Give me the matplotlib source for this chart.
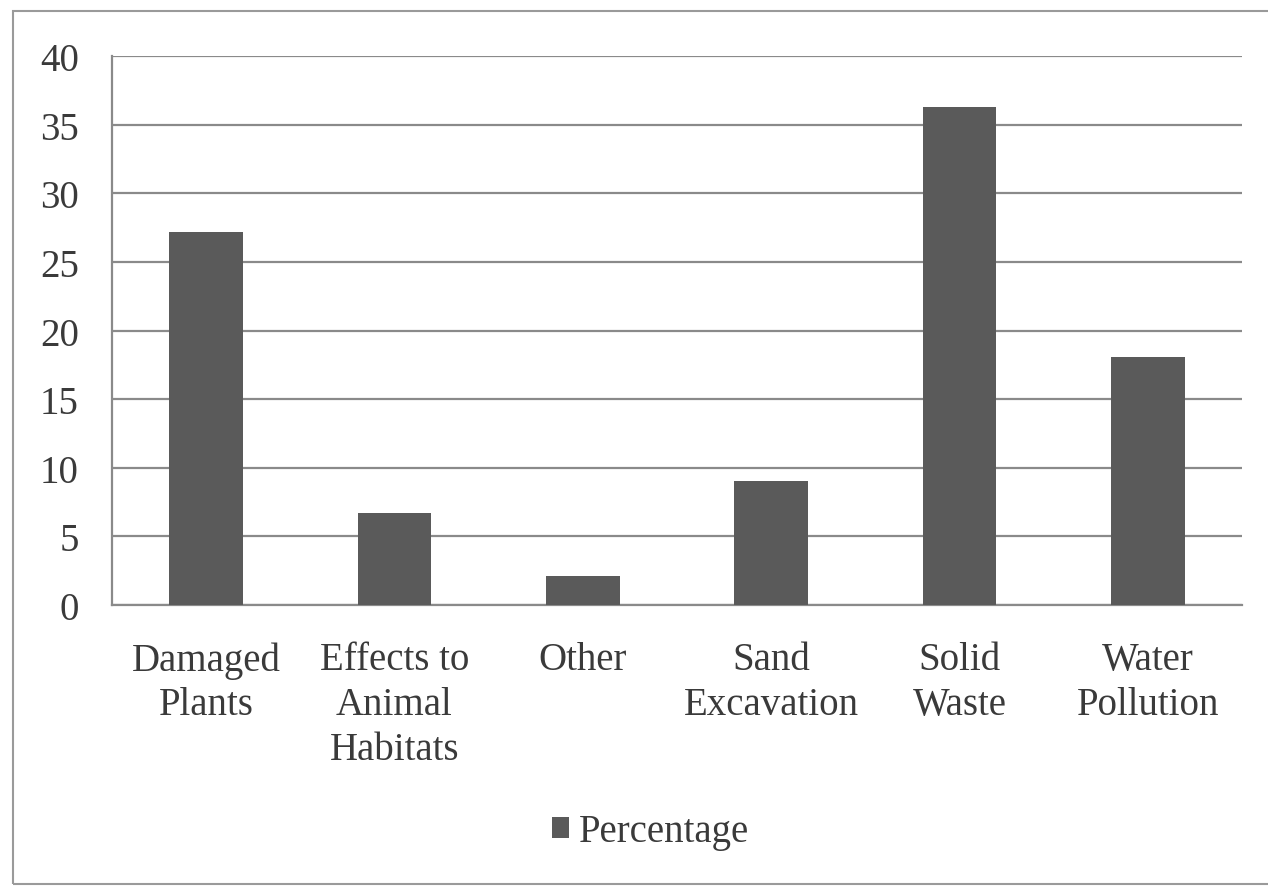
import matplotlib
matplotlib.use("Agg")
import matplotlib.pyplot as plt
from matplotlib.patches import Rectangle

categories = ["Damaged\nPlants", "Effects to\nAnimal\nHabitats", "Other",
              "Sand\nExcavation", "Solid\nWaste", "Water\nPollution"]
percentage = [27.2, 6.7, 2.1, 9.0, 36.3, 18.1]
yticks = [0, 5, 10, 15, 20, 25, 30, 35, 40]

plt.rcParams["font.family"] = ["Liberation Serif", "DejaVu Serif"]
text_col = "#3a3a3a"
bar_col = "#5a5a5a"
grid_col = "#8a8a8a"

fig = plt.figure(figsize=(12.68, 8.87), dpi=100)
ax = fig.add_axes([0.0883, 0.3168, 0.8912, 0.6189])

x = list(range(len(categories)))
ax.bar(x, percentage, width=0.39, color=bar_col, zorder=3, label="Percentage")

ax.set_xlim(-0.5, len(categories) - 0.5)
ax.set_ylim(0, 40)
ax.set_yticks(yticks)
ax.set_xticks(x)
ax.set_xticklabels(categories, fontsize=28, color=text_col, linespacing=1.28, va="top")
ax.tick_params(axis="y", labelsize=28, labelcolor=text_col, length=0, pad=24)
ax.tick_params(axis="x", length=0, pad=26)
ax.yaxis.grid(True, color=grid_col, linewidth=1.6, zorder=0)

for side in ["top", "right"]:
    ax.spines[side].set_visible(False)
for side in ["left", "bottom"]:
    ax.spines[side].set_color(grid_col)
    ax.spines[side].set_linewidth(1.6)

fig.legend(loc="center", bbox_to_anchor=(0.513, 0.061), frameon=False,
           fontsize=28, handlelength=0.45, handleheight=0.45, handletextpad=0.25,
           labelcolor=text_col)

fig.patches.append(Rectangle((13 / 1268, 2 / 887), 1.0, 873 / 887,
                             transform=fig.transFigure, fill=False,
                             edgecolor="#9a9a9a", linewidth=1.5))

fig.savefig("out.png", dpi=100)
